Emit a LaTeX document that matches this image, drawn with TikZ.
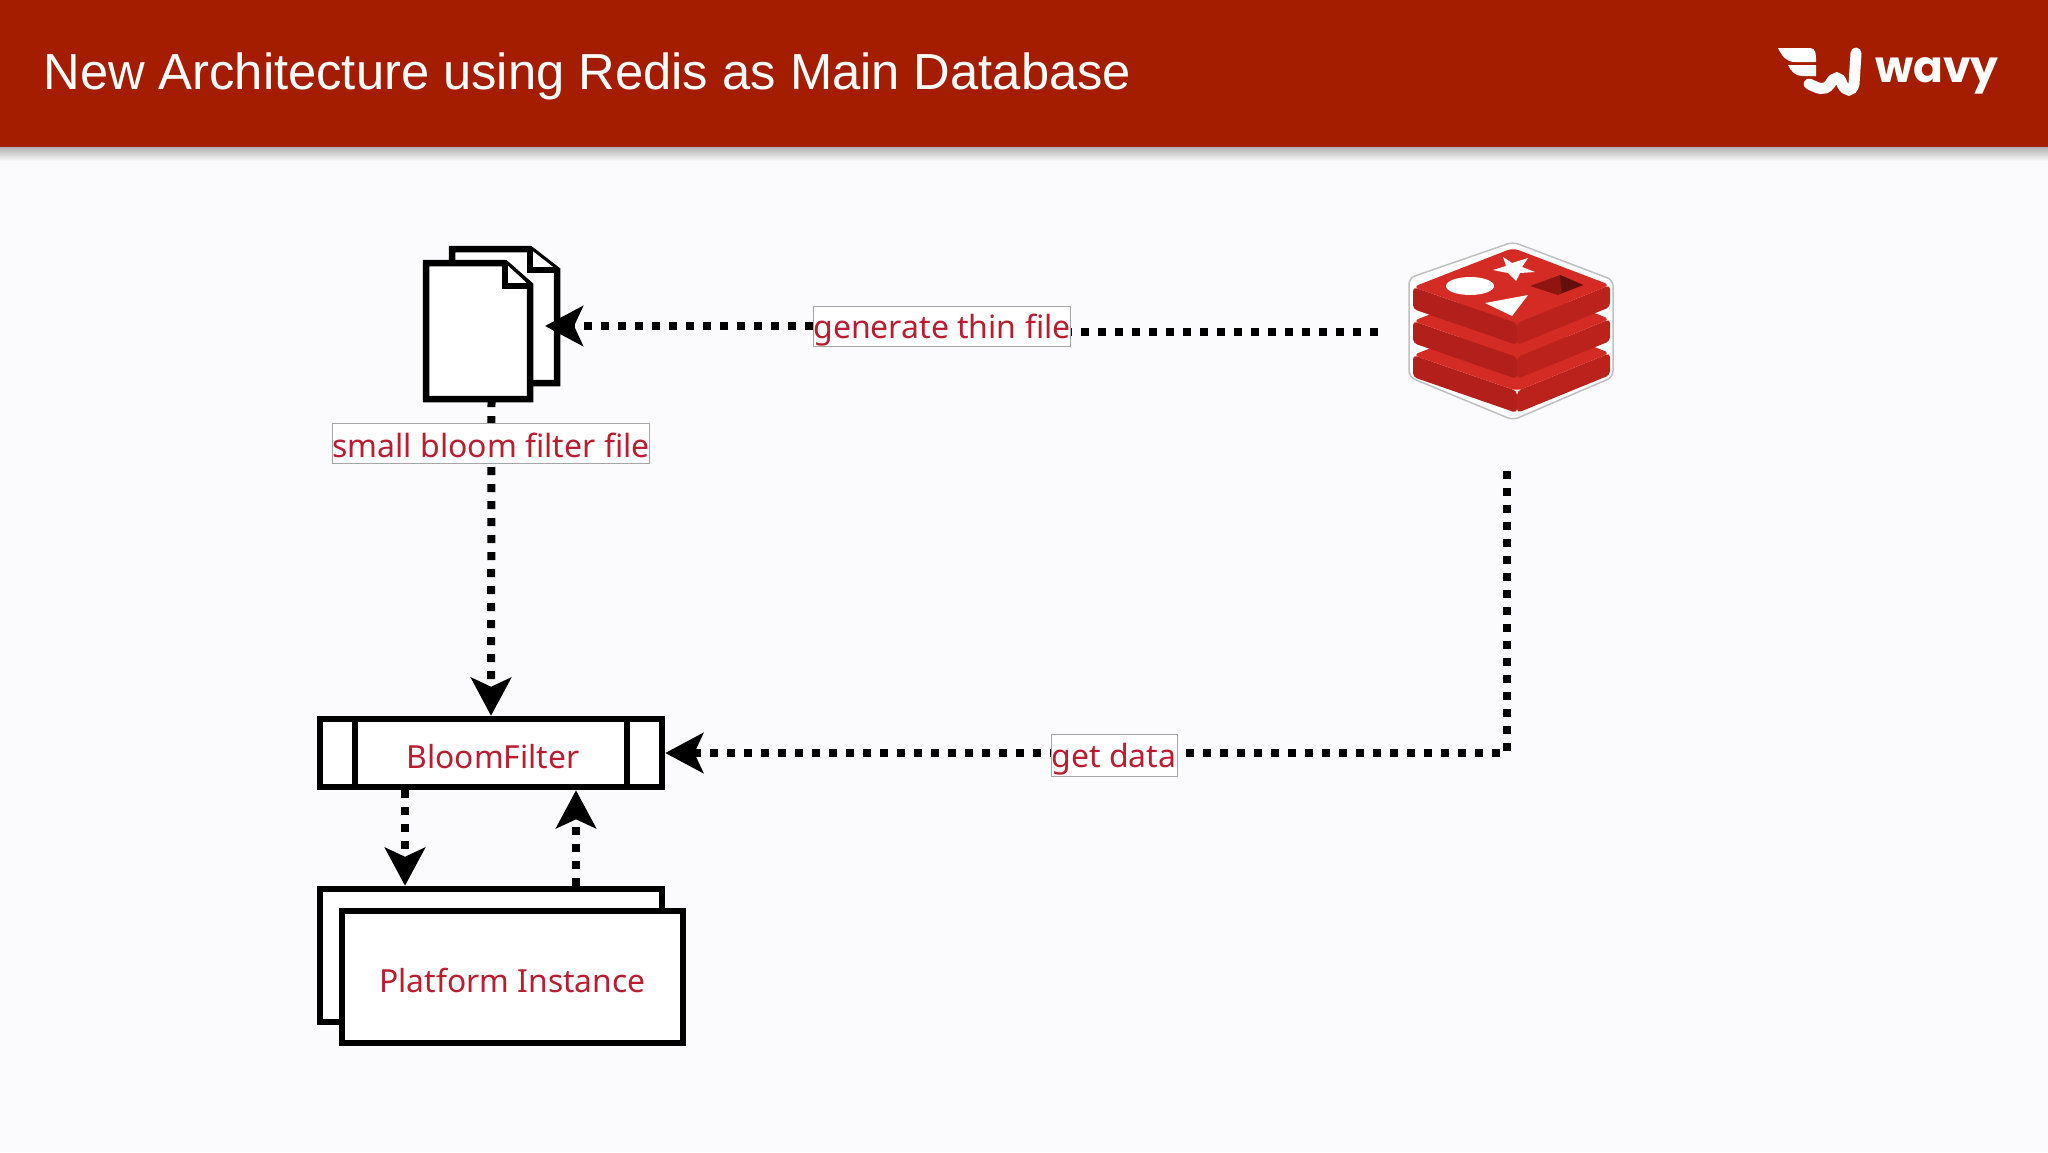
\documentclass[tikz,border=0pt]{standalone}
\usepackage{fontspec}
\setmainfont{Liberation Sans}
\newfontfamily\lblfont{Noto Sans}
\newfontfamily\wavyfont{Poppins}
\usetikzlibrary{arrows.meta}
\definecolor{hdr}{HTML}{A51D00}
\definecolor{pagebg}{HTML}{FBFAFC}
\definecolor{lblred}{HTML}{BC1B30}
\definecolor{rface}{HTML}{D42B24}
\definecolor{rside}{HTML}{B3201B}
\definecolor{rdark}{HTML}{BC221C}
\definecolor{rhole}{HTML}{8E1510}
\begin{document}
\begin{tikzpicture}[x=0.5pt,y=-0.5pt,line join=miter]
	\tikzstyle{bx}=[draw=black,fill=white,line width=3.25pt,inner sep=0pt,font=\lblfont\fontsize{15.9}{18}\selectfont,text=lblred]
	\tikzstyle{lbl}=[draw=black!35,fill=white,line width=0.5pt,inner sep=0pt,font=\lblfont\fontsize{16}{19}\selectfont,text=lblred,text height=12pt,text depth=0pt]
	\tikzstyle{dot}=[draw=black,line width=4pt,dash pattern=on 4pt off 4.5pt]
	\tikzstyle{tip}=[-{Stealth[length=19pt,width=20pt,inset=4.5pt]}]
	\tikzstyle{doc}=[draw=black,fill=white,line width=3.25pt]
	\useasboundingbox (0,0) rectangle (2048,1152);
	% page and header
	\fill[pagebg] (0,0) rectangle (2048,1152);
	\shade[top color=black!30,bottom color=pagebg] (0,147) rectangle (2048,161);
	\fill[hdr] (0,0) rectangle (2048,147);
	\node(title)[anchor=base west,inner sep=0pt,text=white,font=\fontsize{25.35}{30}\selectfont] at (43,89) {New Architecture using Redis as Main Database};
	% wavy logo
	\fill[white] (1778,48)--(1810,48)..controls (1816,48) and (1816,54)..(1816,62)--(1795,62)..controls (1786,62) and (1782,56)..(1778,48)--cycle;
	\fill[white] (1788,65)--(1816,65)--(1816,76)--(1802,76)..controls (1795,76) and (1791,71)..(1788,65)--cycle;
	\draw[white,line width=5.5pt,line cap=round] (1809,84)..controls (1818,88) and (1824,92)..(1830,84)..controls (1834,76) and (1840,76)..(1842,84)..controls (1846,92) and (1852,92)..(1854,84)--(1856,53);
	\node(wavy)[anchor=base west,inner sep=0pt,text=white,font=\wavyfont\bfseries\fontsize{22}{26}\selectfont] at (1875,82) {wavy};
	% file icon
	\node(docs)[minimum width=65.5pt,minimum height=73pt,inner sep=0pt,outer sep=0pt] at (491.5,326) {};
	\coordinate(docin) at ([xshift=-6pt]docs.east);
	\draw[doc] (452,249)--(530,249)--(557,270)--(557,383)--(452,383)--cycle;
	\draw[doc] (530,249)--(530,270)--(557,270);
	\draw[doc] (426,263)--(505,263)--(530,285)--(530,399)--(426,399)--cycle;
	\draw[doc] (505,263)--(505,286)--(530,286);
	% redis icon
	\node(redis)[minimum width=102pt,minimum height=89pt,inner sep=0pt,outer sep=0pt] at (1511,331) {};
	\coordinate(rw) at (1378,332);
	\coordinate(rs) at (1507,471);
	\draw[fill=white,draw=black!25,line width=0.75pt,rounded corners=3pt] (1513,242)--(1613,280)--(1613,377)--(1513,420)--(1409,377)--(1409,278)--cycle;
	% layer 3
	\fill[rside,rounded corners=2pt] (1413,355)--(1517,391)--(1517,413)--(1413,377)--cycle;
	\fill[rdark,rounded corners=2pt] (1517,391)--(1610,353)--(1610,375)--(1517,413)--cycle;
	\fill[rface,rounded corners=3pt] (1513,316)--(1610,353)--(1517,391)--(1413,355)--cycle;
	% layer 2
	\fill[rside,rounded corners=2pt] (1413,321)--(1517,357)--(1517,379)--(1413,343)--cycle;
	\fill[rdark,rounded corners=2pt] (1517,357)--(1610,319)--(1610,341)--(1517,379)--cycle;
	\fill[rface,rounded corners=3pt] (1513,282)--(1610,319)--(1517,357)--(1413,321)--cycle;
	% layer 1
	\fill[rside,rounded corners=2pt] (1413,287)--(1517,323)--(1517,345)--(1413,309)--cycle;
	\fill[rdark,rounded corners=2pt] (1517,323)--(1610,285)--(1610,307)--(1517,345)--cycle;
	\fill[rface,rounded corners=3pt] (1513,248)--(1610,285)--(1517,323)--(1413,287)--cycle;
	% shapes on top
	\fill[white] (1470,286) ellipse [x radius=24,y radius=9];
	\fill[white] (1503,257)--(1512,263)--(1528,258)--(1522,267)--(1535,272)--(1520,273)--(1516,281)--(1508,273)--(1493,270)--(1506,266)--cycle;
	\fill[white] (1485,303)--(1528,295)--(1512,316)--cycle;
	\fill[rhole] (1530,286)--(1560,275)--(1583,285)--(1558,295)--cycle;
	\fill[rhole!70!black] (1560,275)--(1583,285)--(1562,293)--cycle;
	% bloom filter and platform boxes
	\node(bf)[bx,minimum width=171pt,minimum height=34pt] at (491,753) {};
	\draw[black,line width=3.25pt] (355,719)--(355,787) (627,719)--(627,787);
	\node(bftext)[anchor=base,inner sep=0pt,text=lblred,font=\lblfont\fontsize{15.9}{18}\selectfont] at (493,768) {BloomFilter};
	\node(pback)[bx,minimum width=171pt,minimum height=66.5pt] at (491,955.5) {};
	\node(pfront)[bx,minimum width=170.5pt,minimum height=66pt,text height=15pt,text depth=0pt] at (512.5,977) {Platform Instance};
	% edges
	\draw[dot] (rw)--(rw-|1071,0);
	\node(lgen)[lbl,minimum width=128pt,minimum height=20pt] at (942,326) {generate thin file};
	\draw[dot,tip] (lgen.west)--(docin);
	\draw[dot,tip] (docs.south)--(bf.north);
	\node(lsmall)[lbl,minimum width=157pt,minimum height=20pt,text height=14pt] at (491,443) {small bloom filter file};
	\draw[dot,tip] (rs)|-(bf.east);
	\node(lget)[lbl,minimum width=63pt,minimum height=21pt] at (1114,755) {get data};
	\draw[dot,tip] ([xshift=-43pt]bf.south)--([xshift=-43pt]pback.north);
	\draw[dot,tip] ([xshift=42.5pt]pback.north)--([xshift=42.5pt]bf.south);
\end{tikzpicture}
\end{document}
